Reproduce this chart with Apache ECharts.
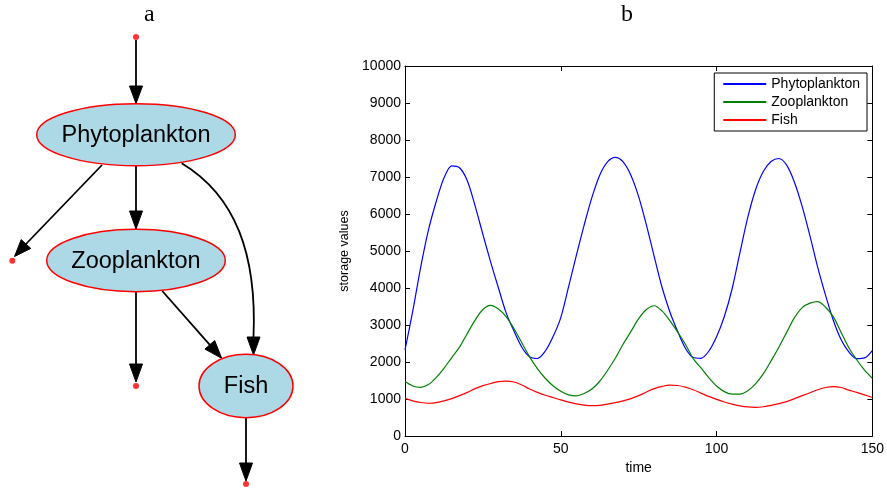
<!DOCTYPE html>
<html>
<head>
<meta charset="utf-8">
<script src="https://cdn.jsdelivr.net/npm/echarts/dist/echarts.min.js"></script>
<style>
  html, body { margin: 0; padding: 0; background: #fff; }
  #chart { width: 887px; height: 492px; }
</style>
</head>
<body>
<div id="chart"></div>
<script>
// ---- simulation output: storage of each compartment over time ----
const time = [0, 2.5, 5, 7.5, 10, 12.5, 15, 17.5, 20, 22.5, 25, 27.5, 30, 32.5, 35, 37.5, 40, 42.5, 45, 47.5,
  50, 52.5, 55, 57.5, 60, 62.5, 65, 67.5, 70, 72.5, 75, 77.5, 80, 82.5, 85, 87.5, 90, 92.5, 95, 97.5,
  100, 102.5, 105, 107.5, 110, 112.5, 115, 117.5, 120, 122.5, 125, 127.5, 130, 132.5, 135, 137.5, 140, 142.5, 145, 147.5, 150];

const phytoplankton = [2330, 3380, 4545, 5555, 6330, 6970, 7300, 7250, 6900, 6220, 5450, 4700, 4000, 3320, 2830, 2400, 2140, 2095, 2290, 2680,
  3200, 4030, 4880, 5700, 6450, 7050, 7410, 7530, 7410, 7050, 6470, 5700, 4850, 4020, 3360, 2830, 2370, 2120, 2100, 2290,
  2680, 3230, 3980, 4950, 5900, 6650, 7150, 7420, 7500, 7320, 6860, 6200, 5400, 4550, 3800, 3120, 2600, 2270, 2090, 2110, 2310];

const zooplankton = [1470, 1350, 1315, 1390, 1580, 1830, 2120, 2400, 2770, 3130, 3420, 3530, 3430, 3220, 2900, 2520, 2140, 1820, 1560, 1360,
  1210, 1110, 1085, 1150, 1270, 1480, 1770, 2100, 2480, 2820, 3170, 3420, 3520, 3380, 3120, 2810, 2480, 2090, 1840, 1580,
  1350, 1200, 1130, 1130, 1220, 1410, 1680, 2030, 2400, 2800, 3200, 3470, 3590, 3630, 3480, 3220, 2800, 2380, 2060, 1780, 1560];

const fish = [1020, 950, 905, 885, 900, 950, 1010, 1090, 1180, 1280, 1360, 1420, 1470, 1485, 1460, 1380, 1270, 1180, 1100, 1040,
  975, 915, 870, 835, 820, 830, 860, 900, 950, 1010, 1090, 1190, 1280, 1340, 1375, 1365, 1320, 1250, 1160, 1070,
  990, 920, 860, 815, 785, 775, 790, 830, 875, 930, 1010, 1090, 1170, 1250, 1310, 1335, 1310, 1240, 1180, 1110, 1040];

const seriesNames = ['Phytoplankton', 'Zooplankton', 'Fish'];
const seriesColors = ['#0000ff', '#008000', '#ff0000'];
const xTicks = [0, 50, 100, 150];
const yTicks = [0, 1000, 2000, 3000, 4000, 5000, 6000, 7000, 8000, 9000, 10000];

// ---- flow diagram (panel a): layout in panel units ----
const diagramNodes = [
  { name: 'Phytoplankton', x: 136, y: 134.7, rx: 99.3, ry: 31 },
  { name: 'Zooplankton',   x: 136, y: 260.5, rx: 89.3, ry: 31.2 },
  { name: 'Fish',          x: 246, y: 386,   rx: 47,   ry: 31.7 }
];
const diagramTerminals = [[136, 37], [12.3, 260.7], [136, 386], [246, 484]];
const diagramEdges = [
  { path: [[136, 40], [136, 86]], tip: [136, 103.5] },
  { path: [[102, 165], [26, 244]], tip: [14.5, 256.5] },
  { path: [[136, 166], [136, 211]], tip: [136, 229] },
  { path: [[181.7, 163.3], [236, 196], [257, 255], [253.5, 337]], tip: [253.5, 355] },
  { path: [[162.3, 291], [209.8, 344.8]], tip: [221.7, 358.3] },
  { path: [[136, 292], [136, 364]], tip: [136, 382] },
  { path: [[246, 418], [246, 463]], tip: [246, 481] }
];

const FONT = '"Liberation Sans", Arial, Helvetica, sans-serif';

function pairs(values) {
  return time.map((t, i) => [t, values[i]]);
}

function renderEdge(params, api) {
  const e = diagramEdges[params.dataIndex];
  const pts = e.path.map(p => api.coord(p));
  const tip = api.coord(e.tip);
  const base = pts[pts.length - 1];
  const dx = tip[0] - base[0], dy = tip[1] - base[1];
  const len = Math.hypot(dx, dy) || 1;
  const ux = dx / len, uy = dy / len;
  const hw = 6.5;
  const left = [base[0] - uy * hw, base[1] + ux * hw];
  const right = [base[0] + uy * hw, base[1] - ux * hw];
  const lineStyle = { stroke: '#000', lineWidth: 1.8, fill: null };
  const children = [];
  if (pts.length === 4) {
    children.push({
      type: 'bezierCurve',
      shape: {
        x1: pts[0][0], y1: pts[0][1],
        cpx1: pts[1][0], cpy1: pts[1][1],
        cpx2: pts[2][0], cpy2: pts[2][1],
        x2: pts[3][0], y2: pts[3][1]
      },
      style: lineStyle
    });
  } else {
    children.push({ type: 'polyline', shape: { points: pts }, style: lineStyle });
  }
  children.push({
    type: 'polygon',
    shape: { points: [tip, left, right] },
    style: { fill: '#000', stroke: '#000', lineWidth: 1 }
  });
  return { type: 'group', children: children };
}

function renderNode(params, api) {
  const n = diagramNodes[params.dataIndex];
  const c = api.coord([n.x, n.y]);
  const s = api.size([n.rx, n.ry]);
  return {
    type: 'group',
    children: [
      {
        type: 'ellipse',
        shape: { cx: c[0], cy: c[1], rx: s[0], ry: s[1] },
        style: { fill: '#add8e6', stroke: '#ff0000', lineWidth: 1.5 }
      },
      {
        type: 'text',
        style: {
          text: n.name, x: c[0], y: c[1] + 1,
          align: 'center', verticalAlign: 'middle',
          font: '23.5px ' + FONT, fill: '#000'
        }
      }
    ]
  };
}

const axisLine = { show: true, onZero: false, lineStyle: { color: '#000', width: 1 } };
const innerTick = { show: true, inside: true, length: 5, lineStyle: { color: '#000' } };
const tickLabel = { color: '#000', fontSize: 14, fontFamily: FONT };

const chart = echarts.init(document.getElementById('chart'), null, { renderer: 'canvas' });

chart.setOption({
  animation: false,
  backgroundColor: '#fff',
  graphic: [
    { type: 'text', left: 144, top: 3, style: { text: 'a', font: '24px "Liberation Serif", "Times New Roman", serif', fill: '#000' } },
    { type: 'text', left: 621, top: 3, style: { text: 'b', font: '24px "Liberation Serif", "Times New Roman", serif', fill: '#000' } }
  ],
  grid: [
    { left: 0, top: 0, width: 300, height: 492 },
    { left: 405, top: 66, right: 13, bottom: 56 }
  ],
  legend: {
    data: seriesNames,
    orient: 'vertical',
    right: 20,
    top: 73,
    itemWidth: 43,
    itemHeight: 14,
    itemGap: 4,
    padding: [4, 7, 4, 8],
    borderColor: '#000',
    borderWidth: 1,
    borderRadius: 0,
    backgroundColor: '#fff',
    itemStyle: { opacity: 0 },
    textStyle: { color: '#000', fontSize: 14, fontFamily: FONT }
  },
  xAxis: [
    { gridIndex: 0, type: 'value', min: 0, max: 300, show: false },
    {
      gridIndex: 1, type: 'value', position: 'bottom', min: 0, max: 150, interval: 50,
      axisLine: axisLine, axisTick: innerTick,
      axisLabel: Object.assign({ margin: 6, formatter: v => xTicks.includes(v) ? String(v) : '' }, tickLabel),
      splitLine: { show: false },
      name: 'time', nameLocation: 'middle', nameGap: 23,
      nameTextStyle: { color: '#000', fontSize: 14, fontFamily: FONT }
    },
    {
      gridIndex: 1, type: 'value', position: 'top', min: 0, max: 150, interval: 50,
      axisLine: axisLine, axisTick: innerTick, axisLabel: { show: false }, splitLine: { show: false }
    }
  ],
  yAxis: [
    { gridIndex: 0, type: 'value', min: 0, max: 492, inverse: true, show: false },
    {
      gridIndex: 1, type: 'value', position: 'left', min: 0, max: 10000, interval: 1000,
      axisLine: axisLine, axisTick: innerTick,
      axisLabel: Object.assign({ margin: 4, formatter: v => yTicks.includes(v) ? String(v) : '' }, tickLabel),
      splitLine: { show: false },
      name: 'storage values', nameLocation: 'middle', nameGap: 46, nameRotate: 90,
      nameTextStyle: { color: '#000', fontSize: 12.5, fontFamily: FONT }
    },
    {
      gridIndex: 1, type: 'value', position: 'right', min: 0, max: 10000, interval: 1000,
      axisLine: axisLine, axisTick: innerTick, axisLabel: { show: false }, splitLine: { show: false }
    }
  ],
  series: [
    {
      type: 'custom', name: 'edges', xAxisIndex: 0, yAxisIndex: 0,
      renderItem: renderEdge, data: diagramEdges.map(e => e.tip), silent: true
    },
    {
      type: 'custom', name: 'nodes', xAxisIndex: 0, yAxisIndex: 0,
      renderItem: renderNode, data: diagramNodes.map(n => [n.x, n.y]), silent: true, z: 3
    },
    {
      type: 'scatter', name: 'terminals', xAxisIndex: 0, yAxisIndex: 0,
      data: diagramTerminals, symbol: 'circle', symbolSize: 6,
      itemStyle: { color: '#ff0000' }, silent: true, z: 4
    },
    {
      type: 'line', name: seriesNames[0], xAxisIndex: 1, yAxisIndex: 1,
      data: pairs(phytoplankton), symbol: 'none', smooth: 0.3,
      lineStyle: { color: seriesColors[0], width: 1.2 }, itemStyle: { color: seriesColors[0] }
    },
    {
      type: 'line', name: seriesNames[1], xAxisIndex: 1, yAxisIndex: 1,
      data: pairs(zooplankton), symbol: 'none', smooth: 0.3,
      lineStyle: { color: seriesColors[1], width: 1.2 }, itemStyle: { color: seriesColors[1] }
    },
    {
      type: 'line', name: seriesNames[2], xAxisIndex: 1, yAxisIndex: 1,
      data: pairs(fish), symbol: 'none', smooth: 0.3,
      lineStyle: { color: seriesColors[2], width: 1.2 }, itemStyle: { color: seriesColors[2] }
    }
  ]
});
</script>
</body>
</html>
